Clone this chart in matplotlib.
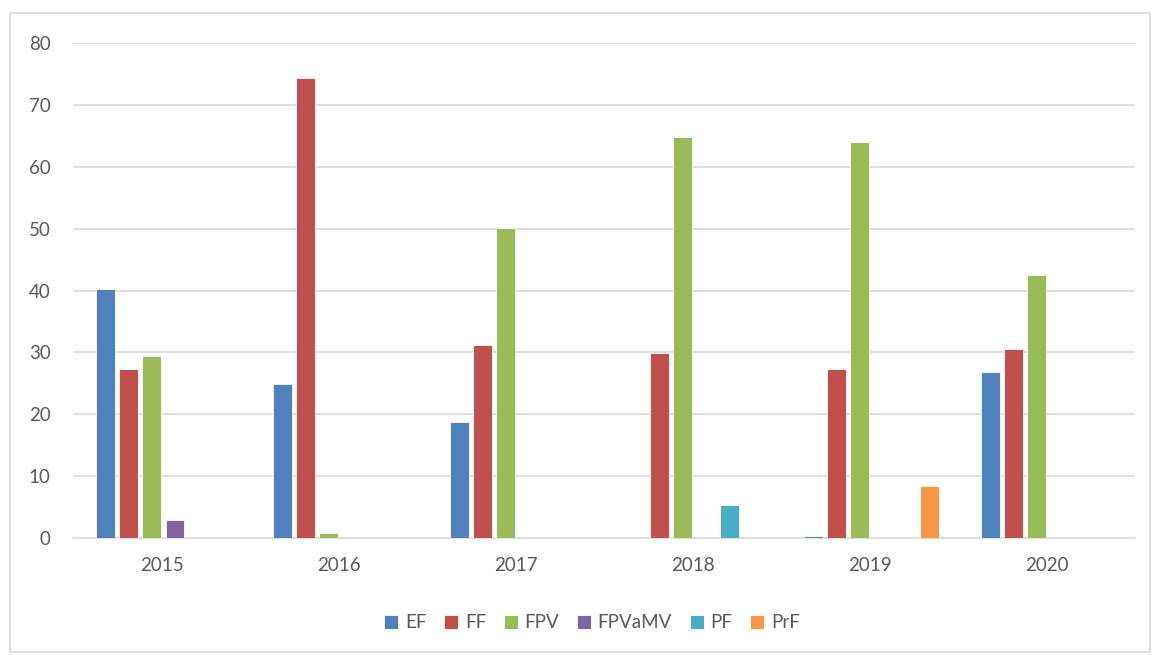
import matplotlib
matplotlib.use("Agg")
import matplotlib.pyplot as plt
import numpy as np
from matplotlib.patches import Rectangle

plt.rcParams['font.family'] = ['Lato', 'DejaVu Sans']

years = ["2015", "2016", "2017", "2018", "2019", "2020"]
series = ["EF", "FF", "FPV", "FPVaMV", "PF", "PrF"]
EF = [40.2, 24.9, 18.7, 0, 0.3, 26.8]
FF = [27.3, 74.3, 31.2, 29.9, 27.3, 30.5]
FPV = [29.4, 0.8, 50.1, 64.8, 64.0, 42.5]
FPVaMV = [2.9, 0, 0, 0, 0, 0]
PF = [0, 0, 0, 5.3, 0, 0]
PrF = [0, 0, 0, 0, 8.4, 0]
values = [EF, FF, FPV, FPVaMV, PF, PrF]
colors = ["#4F81BD", "#C0504D", "#9BBB59", "#8064A2", "#4BACC6", "#F79646"]

W, H = 1153, 655
fig = plt.figure(figsize=(W / 100, H / 100), dpi=100)
ax = fig.add_axes([73 / W, 1 - 538 / H, (1135 - 73) / W, (538 - 43) / H])

x = np.arange(len(years))
step = 0.131
bw = 0.106
for i, (s, v, c) in enumerate(zip(series, values, colors)):
    off = (i - 2.5) * step + 0.011
    ax.bar(x + off, v, width=bw, color=c, edgecolor="white", linewidth=0.6, label=s, zorder=3)

ax.set_xlim(-0.5, len(years) - 0.5)
ax.set_ylim(0, 80)
ax.set_yticks(range(0, 81, 10))
ax.set_xticks(x)
ax.set_xticklabels(years)
ax.grid(axis="y", color="#D9D9D9", linewidth=1.2, zorder=0)
for sp in ["top", "right", "left"]:
    ax.spines[sp].set_visible(False)
ax.spines["bottom"].set_color("#D9D9D9")
ax.spines["bottom"].set_linewidth(1.2)
ax.tick_params(axis="both", length=0, colors="#595959", labelsize=13.5)
ax.tick_params(axis="y", pad=16)
ax.tick_params(axis="x", pad=14)

leg = fig.legend(loc="center", bbox_to_anchor=(592 / W, 1 - 623 / H), ncol=6, frameon=False,
                 fontsize=13.5, handlelength=0.75, handleheight=0.75, columnspacing=0.95,
                 handletextpad=0.35, labelcolor="#595959")

fig.patches.append(Rectangle((10 / W, 1 - 652 / H), (1150 - 10) / W, (652 - 13) / H,
                             transform=fig.transFigure, fill=False, edgecolor="#D9D9D9", linewidth=1.2))

fig.savefig("out.png", dpi=100)
